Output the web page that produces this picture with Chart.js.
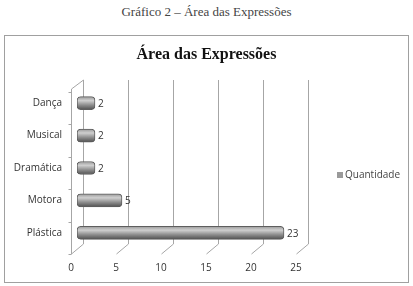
<!DOCTYPE html>
<html>
<head>
<meta charset="utf-8">
<script src="https://cdn.jsdelivr.net/npm/chart.js@4/dist/chart.umd.min.js"></script>
<style>
body{margin:0;background:#fff;width:413px;height:286px;position:relative;overflow:hidden}
#caption{position:absolute;left:0;top:4px;width:413px;text-align:center;font:13px "Liberation Serif",serif;color:#444}
#box{position:absolute;left:4px;top:35px;width:403px;height:246px;border:1px solid #a0a0a0}
#title{position:absolute;left:0;top:9px;width:403px;text-align:center;font:bold 16px "Liberation Serif",serif;color:#111}
#graph{position:absolute;left:0;top:0}
</style>
</head>
<body>
<div id="caption">Gráfico 2 – Área das Expressões</div>
<div id="box"><canvas id="graph" width="403" height="246"></canvas><div id="title">Área das Expressões</div></div>
<script>
var categories = ['Dança', 'Musical', 'Dramática', 'Motora', 'Plástica'];
var quantidade = [2, 2, 2, 5, 23];
var xTicks = [0, 5, 10, 15, 20, 25];
var seriesName = 'Quantidade';

var depthX = 6, depthY = 5; // half depth of the fake 3d floor
var ctx = document.getElementById('graph').getContext('2d');

function barFill(c){
    var chart = c.chart;
    var ys = chart.scales.y;
    if(!ys || ys.top === undefined) return '#999';
    var y = ys.getPixelForValue(c.dataIndex);
    var g = chart.ctx.createLinearGradient(0, y - 6.5, 0, y + 6.5);
    g.addColorStop(0, '#9a9a9a');
    g.addColorStop(0.3, '#cfcfcf');
    g.addColorStop(0.65, '#8c8c8c');
    g.addColorStop(1, '#505050');
    return g;
}

// back walls, floor diagonals and front axis
var walls = {
    id: 'walls',
    beforeDatasetsDraw: function(chart){
        var c = chart.ctx, a = chart.chartArea, xs = chart.scales.x, ys = chart.scales.y;
        c.save();
        c.strokeStyle = '#a6a6a6';
        c.lineWidth = 1;
        xTicks.forEach(function(v){
            var x = Math.round(xs.getPixelForValue(v)) + 0.5;
            c.beginPath();
            c.moveTo(x + depthX, a.top - 7);
            c.lineTo(x + depthX, a.bottom - depthY);
            c.lineTo(x - depthX, a.bottom + depthY);
            c.stroke();
        });
        // front left axis
        var fx = Math.round(xs.getPixelForValue(0)) - depthX + 0.5;
        c.beginPath();
        c.moveTo(fx + 2 * depthX, a.top - 7);
        c.lineTo(fx, a.top + 2);
        c.lineTo(fx, a.bottom + depthY);
        c.stroke();
        for(var i = 0; i <= categories.length; i++){
            var y = Math.round(ys.getPixelForValue(i - 0.5) + depthY) + 0.5;
            c.beginPath();
            c.moveTo(fx - 3, y);
            c.lineTo(fx, y);
            c.stroke();
        }
        c.restore();
    }
};

var valueLabels = {
    id: 'valueLabels',
    afterDatasetsDraw: function(chart){
        var c = chart.ctx, meta = chart.getDatasetMeta(0);
        c.save();
        c.font = '10px "Open Sans", sans-serif';
        c.fillStyle = '#333';
        c.textBaseline = 'middle';
        meta.data.forEach(function(bar, i){
            c.fillText(String(quantidade[i]), bar.x + 3, bar.y + 1);
        });
        c.restore();
    }
};

var sideLegend = {
    id: 'sideLegend',
    afterDraw: function(chart){
        var c = chart.ctx;
        c.save();
        c.fillStyle = '#9a9a9a';
        c.fillRect(332, 136, 6, 6);
        c.font = '10px "Open Sans", sans-serif';
        c.fillStyle = '#444';
        c.textBaseline = 'middle';
        c.fillText(chart.data.datasets[0].label, 340, 139);
        c.restore();
    }
};

new Chart(ctx, {
    type: 'bar',
    data: {
        labels: categories,
        datasets: [{
            label: seriesName,
            data: quantidade,
            backgroundColor: barFill,
            borderColor: '#5e5e5e',
            borderWidth: 1,
            borderRadius: 4,
            borderSkipped: false,
            barThickness: 13
        }]
    },
    options: {
        indexAxis: 'y',
        responsive: false,
        animation: false,
        layout: {padding: {left: 0, right: 106, top: 51, bottom: 6}},
        plugins: {
            legend: {display: false},
            tooltip: {enabled: false},
            title: {display: false}
        },
        scales: {
            x: {
                min: 0, max: 25,
                afterBuildTicks: function(s){ s.ticks = xTicks.map(function(v){ return {value: v}; }); },
                afterFit: function(s){ s.height = 27; },
                grid: {display: false, drawTicks: false},
                border: {display: false},
                ticks: {color: '#333', font: {family: '"Open Sans", sans-serif', size: 10}, padding: 13, labelOffset: -depthX}
            },
            y: {
                afterFit: function(s){ s.width = 72; },
                grid: {display: false, drawTicks: false},
                border: {display: false},
                ticks: {color: '#333', font: {family: '"Open Sans", sans-serif', size: 10}, padding: 15}
            }
        }
    },
    plugins: [walls, valueLabels, sideLegend]
});
</script>
</body>
</html>
